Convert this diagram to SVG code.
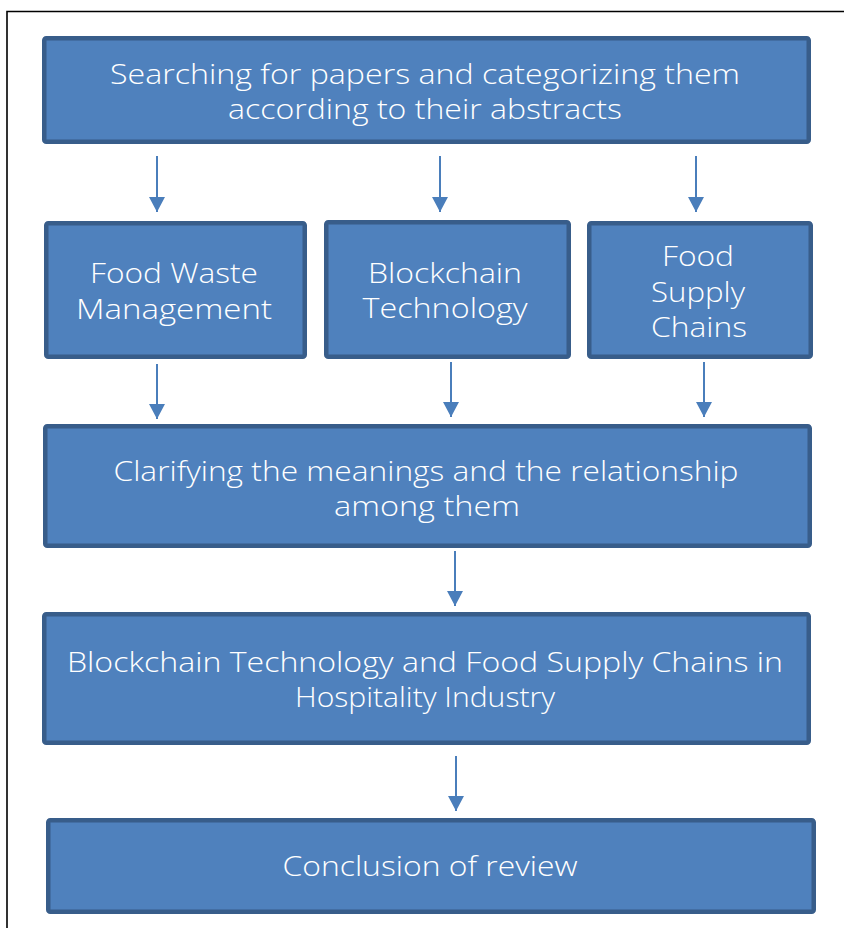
<svg xmlns="http://www.w3.org/2000/svg" width="844" height="928" viewBox="0 0 844 928">
<defs>
<style>
.box{fill:#4F81BD;stroke:#385D8A;stroke-width:4.5}
.t{font-family:"Open Sans","DejaVu Sans",sans-serif;font-weight:300;font-size:28px;fill:#FFFFFF;text-anchor:middle}
.c{stroke:#4A7EBB;stroke-width:2;fill:none;marker-end:url(#ah)}
</style>
<marker id="ah" markerUnits="userSpaceOnUse" markerWidth="16" markerHeight="16" viewBox="0 0 16 16" refX="15" refY="8" orient="auto">
<path d="M0,0 L15,8 L0,16 Z" fill="#4A7EBB"/>
</marker>
</defs>
<rect width="844" height="928" fill="#FFFFFF"/>
<path d="M7,928 L7,11.5 L844,11.5" fill="none" stroke="#000000" stroke-width="1.6"/>
<g id="connectors">
<line class="c" x1="157" y1="156" x2="157" y2="212"/>
<line class="c" x1="440" y1="156" x2="440" y2="212"/>
<line class="c" x1="696" y1="156" x2="696" y2="212"/>
<line class="c" x1="157" y1="364" x2="157" y2="419"/>
<line class="c" x1="451" y1="362" x2="451" y2="417"/>
<line class="c" x1="704" y1="362" x2="704" y2="417"/>
<line class="c" x1="455" y1="551" x2="455" y2="606"/>
<line class="c" x1="456" y1="756" x2="456" y2="811"/>
</g>
<g id="search">
<rect class="box" x="44.25" y="38.25" width="764.5" height="103.5" rx="2"/>
<text class="t" x="425" y="84" textLength="630" lengthAdjust="spacingAndGlyphs">Searching for papers and categorizing them</text>
<text class="t" x="425" y="119" textLength="394" lengthAdjust="spacingAndGlyphs">according to their abstracts</text>
</g>
<g id="food-waste">
<rect class="box" x="46.25" y="223.25" width="258.5" height="133.5" rx="2"/>
<text class="t" x="174" y="283" textLength="168" lengthAdjust="spacingAndGlyphs">Food Waste</text>
<text class="t" x="174" y="319" textLength="196" lengthAdjust="spacingAndGlyphs">Management</text>
</g>
<g id="blockchain">
<rect class="box" x="326.25" y="222.25" width="242.5" height="134.5" rx="2"/>
<text class="t" x="445" y="283" textLength="154" lengthAdjust="spacingAndGlyphs">Blockchain</text>
<text class="t" x="445" y="318" textLength="165" lengthAdjust="spacingAndGlyphs">Technology</text>
</g>
<g id="food-supply">
<rect class="box" x="589.25" y="223.25" width="221.5" height="133.5" rx="2"/>
<text class="t" x="698" y="266" textLength="72" lengthAdjust="spacingAndGlyphs">Food</text>
<text class="t" x="698" y="302" textLength="94" lengthAdjust="spacingAndGlyphs">Supply</text>
<text class="t" x="699" y="337" textLength="96" lengthAdjust="spacingAndGlyphs">Chains</text>
</g>
<g id="clarifying">
<rect class="box" x="45.25" y="426.25" width="764.5" height="119.5" rx="2"/>
<text class="t" x="426" y="481" textLength="625" lengthAdjust="spacingAndGlyphs">Clarifying the meanings and the relationship</text>
<text class="t" x="427" y="516" textLength="186" lengthAdjust="spacingAndGlyphs">among them</text>
</g>
<g id="hospitality">
<rect class="box" x="44.25" y="614.25" width="764.5" height="128.5" rx="2"/>
<text class="t" x="425" y="672" textLength="716" lengthAdjust="spacingAndGlyphs">Blockchain Technology and Food Supply Chains in</text>
<text class="t" x="425" y="707" textLength="260" lengthAdjust="spacingAndGlyphs">Hospitality Industry</text>
</g>
<g id="conclusion">
<rect class="box" x="48.25" y="820.25" width="765.5" height="91.5" rx="2"/>
<text class="t" x="430" y="876" textLength="295" lengthAdjust="spacingAndGlyphs">Conclusion of review</text>
</g>
</svg>
